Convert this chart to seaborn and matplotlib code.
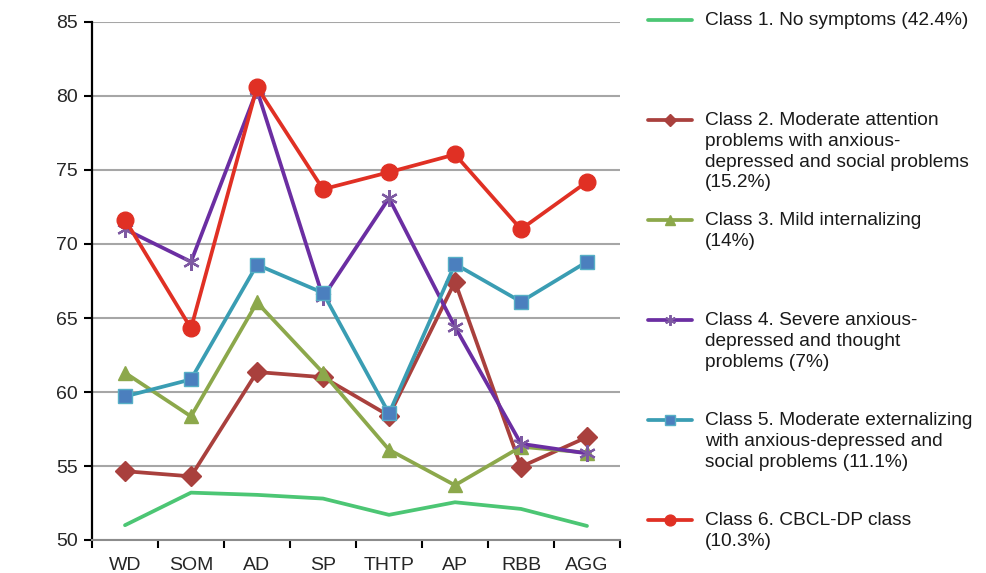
import numpy as np
import pandas as pd
import matplotlib

matplotlib.use("Agg")
import matplotlib.pyplot as plt
from matplotlib.lines import Line2D
import seaborn as sns

sns.set_style("white")
plt.rcParams["font.family"] = ["Liberation Sans", "DejaVu Sans"]

#%% data
scales = ["WD", "SOM", "AD", "SP", "THTP", "AP", "RBB", "AGG"]

class1 = [51.0, 53.2, 53.05, 52.8, 51.7, 52.55, 52.1, 50.95]
class2 = [54.65, 54.3, 61.35, 61.0, 58.4, 67.45, 54.95, 56.95]
class3 = [61.3, 58.35, 66.05, 61.3, 56.1, 53.7, 56.3, 55.9]
class4 = [71.0, 68.8, 80.4, 66.4, 73.1, 64.4, 56.5, 55.85]
class5 = [59.7, 60.85, 68.6, 66.7, 58.55, 68.65, 66.1, 68.8]
class6 = [71.65, 64.3, 80.6, 73.7, 74.85, 76.05, 71.0, 74.2]

labels = [
    "Class 1. No symptoms (42.4%)",
    "Class 2. Moderate attention\nproblems with anxious-\ndepressed and social problems\n(15.2%)",
    "Class 3. Mild internalizing\n(14%)",
    "Class 4. Severe anxious-\ndepressed and thought\nproblems (7%)",
    "Class 5. Moderate externalizing\nwith anxious-depressed and\nsocial problems (11.1%)",
    "Class 6. CBCL-DP class\n(10.3%)",
]

# style per class: line colour, marker, marker face, marker edge, marker size
styles = [
    ("#4CC674", "", "#4CC674", "#4CC674", 0),
    ("#A9403D", "D", "#A9403D", "#A9403D", 10),
    ("#8CA84B", "^", "#8CA84B", "#8CA84B", 10),
    ("#6B2EA2", (6, 2, 0), "#7E5AA2", "#7E5AA2", 12),
    ("#3A9DB3", "s", "#4B7FBE", "#56AFC6", 10),
    ("#E03024", "o", "#E03024", "#E03024", 12),
]

series = [class1, class2, class3, class4, class5, class6]

#%% plot
fig = plt.figure(figsize=(9.86, 5.73), dpi=100)
ax = fig.add_axes([92 / 986, 1 - 540 / 573, (620 - 92) / 986, (540 - 22) / 573])

for vals, lab, (col, mk, mfc, mec, ms) in zip(series, labels, styles):
    df = pd.DataFrame({"scale": scales, "value": vals})
    sns.lineplot(
        data=df,
        x="scale",
        y="value",
        ax=ax,
        color=col,
        linewidth=2.7,
        marker=mk if mk != "" else None,
        markersize=ms,
        markerfacecolor=mfc,
        markeredgecolor=mec,
        markeredgewidth=1.6 if mk == (6, 2, 0) else 1.0,
        label=lab,
        sort=False,
    )

ax.set_xlim(-0.5, 7.5)
ax.set_ylim(50, 85)
ax.set_yticks(np.arange(50, 86, 5))
ax.set_xticks(range(len(scales)))
ax.set_xticklabels(scales)
ax.set_xticks(np.arange(-0.5, 8, 1), minor=True)
ax.tick_params(axis="x", which="major", length=0, pad=12, labelsize=14)
ax.tick_params(axis="x", which="minor", length=6, width=1.5, color="black", direction="out")
ax.tick_params(axis="y", length=6, width=1.5, color="black", direction="out", labelsize=14, pad=4)
ax.xaxis.set_ticks_position("bottom")
ax.yaxis.set_ticks_position("left")
ax.yaxis.grid(True, color="#A6A6A6", linewidth=1.5)
ax.set_axisbelow(True)
ax.set_xlabel("")
ax.set_ylabel("")
for s in ["top", "right"]:
    ax.spines[s].set_visible(False)
ax.spines["left"].set_color("black")
ax.spines["left"].set_linewidth(1.6)
ax.spines["bottom"].set_color("#8C8C8C")
ax.spines["bottom"].set_linewidth(1.5)
if ax.get_legend() is not None:
    ax.get_legend().remove()

# legend drawn by hand so the handles sit on the first text line
W, H = 986, 573
rows = [20, 120, 220, 320, 420, 520]
for y, lab, (col, mk, mfc, mec, ms) in zip(rows, labels, styles):
    fy = 1 - y / H
    fig.add_artist(Line2D([648 / W, 692 / W], [fy, fy], transform=fig.transFigure,
                          color=col, linewidth=2.7))
    if mk != "":
        fig.add_artist(Line2D([670 / W], [fy], transform=fig.transFigure, color=col,
                              marker=mk, markersize=ms * 0.65, markerfacecolor=mfc,
                              markeredgecolor=mec, linestyle="none",
                              markeredgewidth=1.4 if mk == (6, 2, 0) else 1.0))
    fig.text(705 / W, 1 - (y - 8) / H, lab, ha="left", va="top",
             fontsize=13.8, linespacing=1.29, color="#1a1a1a")

plt.savefig("out.png", dpi=100)
